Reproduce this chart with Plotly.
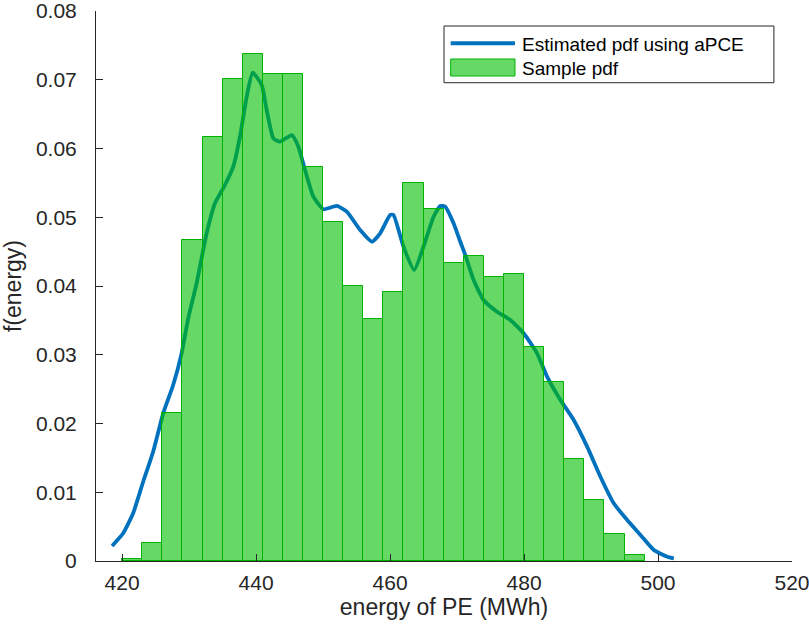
import plotly.graph_objects as go

# Histogram (sample pdf): bins of width 3 starting at 420
bin_left = [420, 423, 426, 429, 432, 435, 438, 441, 444, 447, 450, 453, 456,
            459, 462, 465, 468, 471, 474, 477, 480, 483, 486, 489, 492, 495]
bin_width = 3
sample_pdf = [0.00025, 0.00262, 0.0215, 0.0467, 0.0617, 0.0701, 0.0737, 0.0709,
              0.0709, 0.0573, 0.0493, 0.0400, 0.0352, 0.0392, 0.0550, 0.0512,
              0.0434, 0.0443, 0.0413, 0.0417, 0.0311, 0.0260, 0.0148, 0.00887,
              0.00388, 0.00083]

# Estimated pdf using aPCE
est_x = [418.5, 420.15, 421.64, 423.14, 424.63, 426.13, 427.62, 428.88, 429.87,
         431.12, 432.62, 433.86, 435.35, 436.59, 437.59, 438.6, 439.49, 440.84,
         441.58, 442.57, 443.57, 445.32, 446.31, 447.31, 448.55, 450.04, 452.05,
         453.54, 455.53, 457.28, 458.52, 460.02, 460.51, 462.0, 463.6, 464.99,
         466.49, 467.49, 468.24, 469.48, 470.48, 471.23, 472.47, 473.96, 475.96,
         477.95, 479.94, 481.94, 483.44, 485.43, 487.41, 489.42, 491.4, 493.39,
         495.4, 497.38, 499.37, 501.37, 502.36]
est_y = [0.00218, 0.00403, 0.00694, 0.01153, 0.0159, 0.02148, 0.0256, 0.03021,
         0.0353, 0.0404, 0.04767, 0.05203, 0.05469, 0.05735, 0.06172, 0.06753,
         0.07103, 0.06924, 0.0656, 0.06148, 0.06099, 0.06196, 0.06026, 0.05687,
         0.05299, 0.05116, 0.05164, 0.05081, 0.04815, 0.04644, 0.04767, 0.05033,
         0.05033, 0.04572, 0.04233, 0.04572, 0.05008, 0.05164, 0.05153, 0.04912,
         0.04644, 0.04451, 0.04087, 0.03796, 0.03626, 0.03505, 0.03312, 0.03021,
         0.02681, 0.02342, 0.02051, 0.01663, 0.01226, 0.00839, 0.00596, 0.00378,
         0.0016, 0.00063, 0.00039]

x_ticks = [420, 440, 460, 480, 500, 520]
y_ticks = [0, 0.01, 0.02, 0.03, 0.04, 0.05, 0.06, 0.07, 0.08]
y_ticklabels = ["0", "0.01", "0.02", "0.03", "0.04", "0.05", "0.06", "0.07", "0.08"]

line_name = "Estimated pdf using aPCE"
bar_name = "Sample pdf"

XR = [416.1, 520]
YR = [0, 0.08]
AXC = "#262626"
LINE_C = "rgb(0,114,189)"
BAR_FILL = "rgba(0,190,0,0.6)"
BAR_EDGE = "rgb(0,178,0)"
FONT = "Liberation Sans, Arial, Helvetica, sans-serif"

fig = go.Figure()
fig.add_trace(go.Scatter(
    x=est_x, y=est_y, mode="lines", name=line_name, showlegend=False,
    line=dict(color=LINE_C, width=3.8, shape="spline", smoothing=0.5),
    xaxis="x", yaxis="y"))
fig.add_trace(go.Bar(
    x=bin_left, y=sample_pdf, width=bin_width, offset=0, name=bar_name, showlegend=False,
    marker=dict(color=BAR_FILL, line=dict(color=BAR_EDGE, width=1)),
    xaxis="x2", yaxis="y2"))

axis_common = dict(showgrid=False, zeroline=False, showline=True, linecolor=AXC,
                   linewidth=1, ticks="inside", ticklen=7, tickcolor=AXC,
                   automargin=False, ticklabeloverflow="allow",
                   tickfont=dict(family=FONT, size=21, color=AXC))

fig.update_layout(
    width=809, height=632,
    margin=dict(l=96, r=17, t=11, b=71),
    paper_bgcolor="white", plot_bgcolor="white",
    font=dict(family=FONT, color=AXC),
    bargap=0,
    xaxis=dict(range=XR, tickvals=x_ticks, **axis_common, ticklabelstandoff=3,
               title=dict(text="energy of PE (MWh)", font=dict(family=FONT, size=23, color=AXC),
                          standoff=0)),
    yaxis=dict(range=YR, tickvals=y_ticks, ticktext=y_ticklabels, **axis_common,
               ticklabelstandoff=14,
               title=dict(text="f(energy)", font=dict(family=FONT, size=23, color=AXC),
                          standoff=8)),
    xaxis2=dict(range=XR, overlaying="x", visible=False),
    yaxis2=dict(range=YR, overlaying="y", visible=False),
    showlegend=False,
)

# Legend box drawn in paper coordinates
fig.add_shape(type="rect", xref="paper", yref="paper", x0=0.5, x1=0.974, y0=0.8696, y1=0.9727,
              line=dict(color=AXC, width=1), fillcolor="white", layer="above")
fig.add_shape(type="line", xref="paper", yref="paper", x0=0.5096, x1=0.6020, y0=0.9413, y1=0.9413,
              line=dict(color=LINE_C, width=4), layer="above")
fig.add_shape(type="rect", xref="paper", yref="paper", x0=0.5096, x1=0.6020, y0=0.8818, y1=0.9127,
              line=dict(color=BAR_EDGE, width=1), fillcolor=BAR_FILL, layer="above")
fig.add_annotation(xref="paper", yref="paper", x=0.6092, y=0.9382, text=line_name,
                   showarrow=False, xanchor="left", yanchor="middle",
                   font=dict(family=FONT, size=19, color="black"))
fig.add_annotation(xref="paper", yref="paper", x=0.6092, y=0.8958, text=bar_name,
                   showarrow=False, xanchor="left", yanchor="middle",
                   font=dict(family=FONT, size=19, color="black"))

fig.write_html("out.html", config={"displayModeBar": False},
               post_script="document.body.style.margin='0';")
